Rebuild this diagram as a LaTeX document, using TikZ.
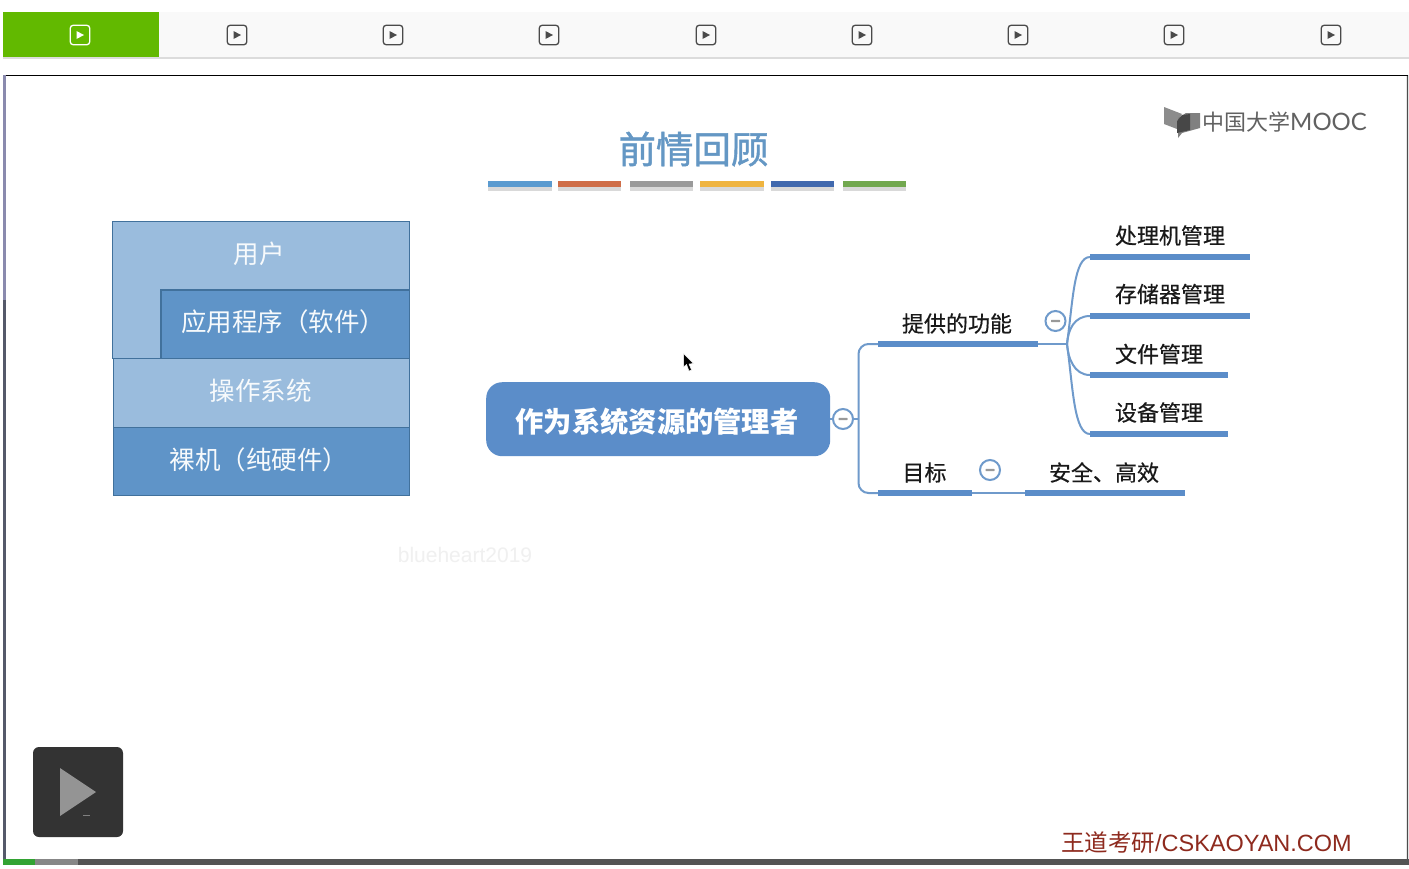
\documentclass[tikz,border=0pt]{standalone}
\usepackage{fontspec}
\setmainfont{Liberation Sans}
\newfontfamily\cjk{Noto Sans CJK SC}
\newfontfamily\cjkfat[FakeBold=1.2]{Noto Sans CJK SC}
\newfontfamily\cjkmid[FakeBold=0.5]{Noto Sans CJK SC}
\newfontfamily\logolat{Lato}
\usetikzlibrary{calc}
\definecolor{barbg}{HTML}{F9F9F9}
\definecolor{barline}{HTML}{DCDCDC}
\definecolor{mygreen}{HTML}{62B900}
\definecolor{icondark}{HTML}{4A4A4A}
\definecolor{lightblue}{HTML}{9ABCDD}
\definecolor{darkblue}{HTML}{5F94C8}
\definecolor{edgeblue}{HTML}{41719C}
\definecolor{mapblue}{HTML}{5B8DC9}
\definecolor{linkblue}{HTML}{6F9ACB}
\definecolor{titleblue}{HTML}{6497C4}
\definecolor{redtext}{HTML}{8E2A1E}
\definecolor{stripa}{HTML}{8A8AAE}
\definecolor{stripb}{HTML}{55596A}
\tikzset{
  x=1pt,y=-1pt,
  boxtext/.style={text=white!92!lightblue,font=\cjk\fontsize{25.5}{25.5}\selectfont,inner sep=0pt},
  maptext/.style={text=black!90,font=\cjkmid\fontsize{22}{22}\selectfont,inner sep=0pt},
  mapbar/.style={fill=mapblue,minimum height=6pt,inner sep=0pt,anchor=west},
  link/.style={draw=linkblue,line width=2pt},
  foldmark/.style={circle,draw=linkblue,fill=white,line width=2pt,minimum size=20pt,inner sep=0pt},
  tick/.style={fill=black!40,rounded corners=.5pt},
  tabicon/.style={draw=#1,rounded corners=3pt,line width=1.3pt,minimum size=19.5pt,inner sep=0pt},
  deco/.style={minimum height=6.5pt,inner sep=0pt,anchor=west},
}
\begin{document}
\begin{tikzpicture}
\useasboundingbox (0,0) rectangle (1409,868);
\fill[white] (0,0) rectangle (1409,868);
% tab bar
\fill[barline] (3,14) rectangle (1409,59);
\fill[barbg] (159,12) rectangle (1409,57);
\fill[mygreen] (3,12) rectangle (159,57);
\foreach \n/\cx in {1/80,2/237,3/393,4/549,5/706,6/862,7/1018,8/1174,9/1331}{
  \ifnum\n=1 \def\ic{white}\else\def\ic{icondark}\fi
  \node[tabicon=\ic] (tab\n) at (\cx,35) {};
  \fill[\ic] ($(tab\n)+(-3.5,-4)$) -- ($(tab\n)+(4,0)$) -- ($(tab\n)+(-3.5,4)$) -- cycle;
}
% slide frame
\fill[black!10] (1405,75) rectangle (1409,859);
\fill[white] (6,76) rectangle (1406,859);
\fill[black] (4,74.5) rectangle (1408,76);
\fill[stripa] (3,75) rectangle (6,300);
\fill[stripb] (3,300) rectangle (6,859);
\fill[black!70] (1406.5,76) rectangle (1408,859);
% title
\node[font=\cjkfat\fontsize{37.5}{37.5}\selectfont,text=titleblue,inner sep=0pt] (title) at (693.5,149) {前情回顾};
\foreach \n/\xa/\w/\c in {1/488/64/5B9BD0,2/558/63/CF6E48,3/630/63/9A9A9A,4/700/64/EFB440,5/771/63/4169AE,6/843/63/72A84F}{
  \definecolor{cc}{HTML}{\c}
  \fill[black!15] (\xa,185) rectangle ++(\w,6);
  \node[deco,fill=cc,minimum width=\w pt] (deco\n) at (\xa,184) {};
}
% logo
\fill[black!45] (1164,107) -- (1182,114) -- (1177,121) -- (1177,129) -- (1164,124) -- cycle;
\fill[black!50] (1178,138) -- (1178,118) -- (1186,113) -- (1200,113) -- (1200,128) -- (1182,133) -- (1178,138) -- cycle;
\fill[black!72] (1177,121) -- (1182,115) -- (1190,114) -- (1190,130) -- (1177,133) -- cycle;
\node[anchor=west,inner sep=0pt,text=black!62,font=\cjk\fontsize{22}{22}\selectfont] (logotext) at (1202,122) {中国大学\logolat\fontsize{24}{24}\selectfont MOOC};
% layered box
\draw[fill=lightblue,draw=edgeblue,line width=.8pt] (112.5,221.5) -- (409,221.5) -- (409,289.5) -- (160.5,289.5) -- (160.5,358) -- (112.5,358) -- cycle;
\node[draw=edgeblue,fill=darkblue,line width=.8pt,minimum width=248.5pt,minimum height=68.5pt,inner sep=0pt,anchor=north west] (app) at (160.5,289.5) {};
\node[draw=edgeblue,fill=lightblue,line width=.8pt,minimum width=296.5pt,minimum height=68.5pt,inner sep=0pt,anchor=north west] (os) at (112.5,358) {};
\node[draw=edgeblue,fill=darkblue,line width=.8pt,minimum width=296.5pt,minimum height=68.5pt,inner sep=0pt,anchor=north west] (hw) at (112.5,426.5) {};
\node[boxtext] (user) at (259,254) {用户};
\node[boxtext] (apptext) at (283,322) {应用程序（软件）};
\node[boxtext] (ostext) at (260.5,391) {操作系统};
\node[boxtext] (hwtext) at (259,459.5) {裸机（纯硬件）};
% watermark
\node[text=black!6,font=\fontsize{21}{21}\selectfont,inner sep=0pt] (mark) at (465,555) {blueheart2019};
% mind map
\node[fill=mapblue,rounded corners=16pt,minimum width=344pt,minimum height=74pt,inner sep=0pt,anchor=north west] (root) at (486,382) {};
\node[text=white,font=\cjk\bfseries\fontsize{28.3}{28.3}\selectfont,inner sep=0pt] (roottext) at (657,421.5) {作为系统资源的管理者};
\node[mapbar,minimum width=160pt] (f) at (878,344) {};
\node[mapbar,minimum width=94pt] (g) at (878,493) {};
\node[mapbar,minimum width=160pt] (g1) at (1025,493) {};
\node[mapbar,minimum width=160pt] (f1) at (1090,257) {};
\node[mapbar,minimum width=160pt] (f2) at (1090,316) {};
\node[mapbar,minimum width=138pt] (f3) at (1090,375) {};
\node[mapbar,minimum width=138pt] (f4) at (1090,434) {};
\coordinate (hub) at (858.5,419);
\coordinate (fhub) at (1067,344);
\draw[link] (root.east |- hub) -- (hub);
\draw[link,rounded corners=10pt] (f.west) -- (hub |- f.west) -- (hub |- g.west) -- (g.west);
\draw[link] (f.east) -- (fhub);
\draw[link] (g.east) -- (g1.west);
\draw[link] (fhub) .. controls (1073,300) and (1074,257) .. (f1.west);
\draw[link] (fhub) .. controls (1068,330) and (1074,316) .. (f2.west);
\draw[link] (fhub) .. controls (1068,358) and (1074,375) .. (f3.west);
\draw[link] (fhub) .. controls (1073,388) and (1074,434) .. (f4.west);
\foreach \n/\cx/\cy in {a/843/419,b/1055.5/321,c/990/470}{
  \node[foldmark] (fold\n) at (\cx,\cy) {};
  \fill[tick] ($(fold\n)+(-4.5,-1.2)$) rectangle ($(fold\n)+(4.5,1.2)$);
}
\node[maptext] (ft) at (957,323.5) {提供的功能};
\node[maptext] (gt) at (924.5,472.5) {目标};
\node[maptext] (g1t) at (1104,472.5) {安全、高效};
\node[maptext] (f1t) at (1170,235.5) {处理机管理};
\node[maptext] (f2t) at (1170,294) {存储器管理};
\node[maptext] (f3t) at (1159,354) {文件管理};
\node[maptext] (f4t) at (1159,412.5) {设备管理};
% cursor
\draw[fill=black,draw=white,line width=.5pt] (683.5,353.5) -- (683.5,367) -- (686.5,364.5) -- (689,371) -- (691.5,370) -- (689,364) -- (693.5,363.5) -- cycle;
% bottom caption
\node[anchor=east,inner sep=0pt,text=redtext,font=\fontsize{23.5}{23.5}\selectfont] (cap) at (1352,843) {{\cjk 王道考研}/CSKAOYAN.COM};
% play button
\node[fill=black!80,rounded corners=6pt,minimum size=90pt,inner sep=0pt] (play) at (78,792) {};
\fill[black!42] ($(play)+(-18,-24)$) -- ($(play)+(18,0)$) -- ($(play)+(-18,24)$) -- cycle;
\fill[black!50] ($(play)+(5,22.5)$) rectangle ($(play)+(12,23.5)$);
% progress bar
\fill[black!67] (3,859) rectangle (1409,865);
\fill[black!47] (35,859) rectangle (78,865);
\fill[green!55!black!80] (3,859) rectangle (35,865);
\end{tikzpicture}
\end{document}
